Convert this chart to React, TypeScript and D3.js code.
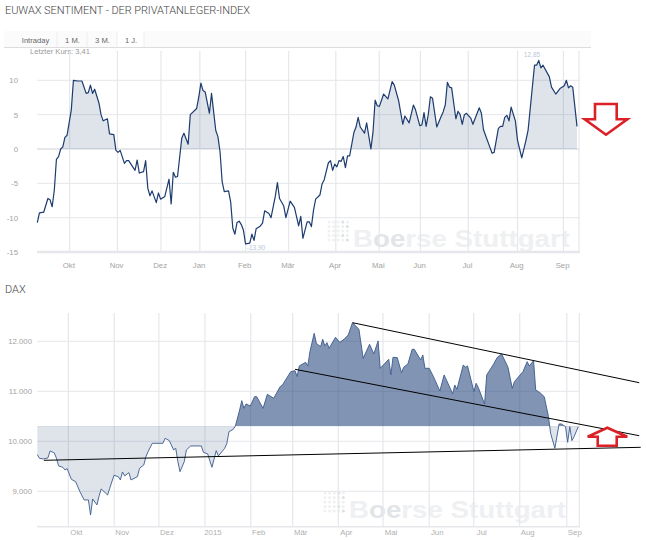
import React from 'react';
import * as d3 from 'd3';

// trading session number (0 = first day shown) and index reading
const sentimentSessions = [
  0, 1, 3, 5, 6, 7, 8, 9, 10, 11, 12, 13, 14, 16, 17, 19, 21, 23, 24, 25, 26, 27, 29, 30, 31, 33, 34, 36, 37, 38, 39,
  41, 42, 43, 46, 47, 48, 50, 51, 52, 53, 54, 56, 57, 58, 60, 62, 63, 64, 65, 66, 68, 69, 71, 72, 75, 76, 77, 78, 79,
  81, 82, 84, 85, 86, 87, 88, 90, 91, 92, 93, 94, 95, 96, 97, 98, 100, 101, 102, 103, 105, 106, 107, 109, 110, 112,
  113, 114, 116, 117, 119, 121, 123, 124, 125, 127, 128, 129, 130, 131, 133, 134, 135, 137, 138, 139, 140, 141, 142,
  143, 144, 145, 146, 147, 149, 150, 151, 152, 154, 155, 157, 158, 159, 160, 161, 163, 165, 167, 168, 170, 172, 173,
  175, 177, 178, 180, 181, 182, 183, 184, 185, 186, 188, 190, 191, 192, 193, 194, 195, 197, 198, 199, 200, 201, 202,
  204, 205, 208, 209, 210, 214, 215, 217, 218, 219, 220, 221, 222, 223, 225, 226, 228, 230, 231, 234, 235, 236, 237,
  238, 241, 242, 244, 246, 248, 249, 250, 251, 252, 254,
];
const sentimentValues = [
  -10.7, -9.3, -9.2, -7.2, -7.4, -8.4, -6.0, -1.5, -1.1, 0, 0.3, 1.7, 2.0, 5.7, 10.0, 9.9, 9.9, 8.1, 8.2, 9.3, 8.1, 8.7,
  6.7, 5.0, 4.1, 4.4, 2.2, 2.1, -0.2, -0.5, -0.2, -2.1, -1.7, -1.7, -3.1, -1.6, -3.5, -3.3, -1.7, -5.7, -6.8, -6.1,
  -7.8, -6.4, -7.3, -6.9, -4.4, -8.0, -3.4, -4.1, -4.0, 1.6, 2.3, 0.7, 5.0, 5.9, 7.6, 9.6, 8.5, 8.3, 5.2, 8.1, 2.7, 1.8,
  -0.4, -4.8, -6.2, -6.1, -7.7, -11.5, -12.4, -10.7, -10.5, -11.0, -11.8, -13.8, -13.7, -12.4, -13.3, -11.6, -11.2,
  -10.8, -9.0, -9.4, -10.0, -6.9, -4.9, -7.2, -8.3, -10.0, -7.6, -8.5, -11.2, -9.8, -13.0, -10.6, -10.6, -11.3, -8.9,
  -7.3, -6.7, -5.1, -4.5, -2.0, -1.7, -3.1, -2.2, -2.6, -1.7, -1.8, -1.1, -2.7, -1.0, -1.0, 2.4, 3.2, 4.6, 3.2, 2.3, 3.8,
  0, 2.5, 7.1, 6.3, 6.2, 8.0, 7.3, 9.8, 9.3, 7.1, 3.6, 4.8, 3.8, 6.4, 5.7, 3.4, 3.5, 5.3, 3.3, 5.0, 7.6, 7.4, 3.2, 4.7,
  5.4, 6.4, 9.7, 9.0, 8.9, 4.4, 5.5, 5.0, 3.6, 5.0, 5.2, 4.5, 3.6, 6.0, 5.2, 2.8, -0.6, -0.5, 3.0, 3.3, 3.3, 4.6, 4.9,
  4.1, 6.1, 4.1, 1.3, -1.3, 1.3, 2.8, 12.2, 12.2, 12.9, 11.8, 12.2, 10.5, 9.0, 8.0, 8.8, 9.2, 10.0, 8.9, 9.2, 9.0, 3.3,
];
const sentimentTicks = [10, 5, 0, -5, -10, -15];
const sentimentMonths = ['Okt', 'Nov', 'Dez', 'Jan', 'Feb', 'Mär', 'Apr', 'Mai', 'Jun', 'Jul', 'Aug', 'Sep'];
const sentimentMonthSessions = [15.2, 37.7, 58.2, 76.5, 98, 118.3, 140.5, 160.9, 180.3, 202.8, 226, 247.6];

const daxSessions = [
  0, 1, 3, 5, 6, 8, 9, 10, 12, 13, 14, 16, 18, 20, 22, 24, 25, 26, 28, 29, 30, 33, 34, 36, 38, 39, 40, 41, 43, 44, 47,
  48, 50, 51, 52, 54, 59, 60, 62, 64, 65, 66, 67, 69, 70, 72, 77, 78, 80, 82, 84, 85, 88, 89, 90, 92, 93, 95, 96, 97,
  98, 100, 102, 103, 106, 108, 111, 114, 115, 119, 121, 122, 123, 126, 127, 128, 130, 131, 133, 134, 135, 136, 137,
  140, 142, 144, 146, 148, 151, 153, 156, 158, 160, 161, 165, 166, 167, 169, 171, 172, 174, 176, 177, 180, 181, 182,
  184, 186, 189, 191, 194, 195, 196, 197, 200, 201, 202, 205, 206, 207, 210, 211, 214, 216, 218, 221, 223, 224, 228,
  230, 231, 233, 234, 236, 238, 240, 241, 243, 245, 246, 248, 249, 250, 251, 252, 254,
];
const daxValues = [
  9733, 9660, 9647, 9667, 9807, 9767, 9660, 9507, 9480, 9427, 9453, 9240, 9193, 8993, 8827, 8827, 8527, 8847, 8727,
  8907, 9047, 8927, 9060, 9320, 9293, 9227, 9387, 9307, 9373, 9227, 9293, 9460, 9527, 9693, 9793, 9960, 9960, 10060,
  10013, 9827, 9860, 9593, 9393, 9593, 9827, 9907, 9907, 9780, 9747, 9480, 9813, 9707, 9860, 9960, 10193, 10240, 10307,
  10627, 10813, 10660, 10747, 10707, 10893, 10893, 10660, 10940, 10860, 11093, 11120, 11393, 11413, 11293, 11507, 11580,
  11507, 11793, 12160, 11960, 11893, 12040, 11907, 11973, 11860, 12080, 11980, 12040, 12127, 12373, 12240, 11660, 11940,
  11747, 12007, 11460, 11640, 11333, 11680, 11673, 11373, 11480, 11547, 11840, 11840, 11627, 11727, 11460, 11460, 11293,
  11007, 11327, 11047, 10947, 11127, 11040, 11527, 11480, 11507, 10993, 11160, 11080, 10747, 11327, 11527, 11680, 11747,
  11480, 11060, 11193, 11393, 11593, 11507, 11613, 11027, 10973, 10893, 10493, 10160, 9860, 10347, 10347, 10293, 9980,
  10293, 10013, 10093, 10293,
];
const daxBase = 10300;
const daxTicks = [12000, 11000, 10000, 9000];
const daxMonths = ['Okt', 'Nov', 'Dez', '2015', 'Feb', 'Mär', 'Apr', 'Mai', 'Jun', 'Jul', 'Aug', 'Sep'];
const daxMonthSessions = [14.6, 36.1, 57.1, 78.7, 100.2, 119.9, 141.3, 162.3, 184, 204.9, 226.5, 248.6];

// hand drawn trend lines on the DAX panel, [session, index level]
const trendLines = [
  [[148, 12372], [282.6, 11172]],
  [[121, 11440], [282.6, 10112]],
  [[3.1, 9620], [283.3, 9880]],
];

const tabs = ['Intraday', '1 M.', '3 M.', '1 J.'];

const FONT = 'Arial, "Liberation Sans", sans-serif';
const GRID = '#e6e7eb';
const TICK = '#a3a3a3';

const fmtDax = (v: number) => d3.format(',')(v).replace(',', '.');

const Watermark = ({ x, y }: { x: number; y: number }) => (
  <g>
    {d3.range(25).map(i => (
      <circle
        key={i}
        cx={x - 24 + (i % 5) * 4.6}
        cy={y - 25 + Math.floor(i / 5) * 4.5}
        r={1.5}
        fill={i % 5 > 2 && i % 3 == 0 ? '#dcdfe3' : '#eef0f2'}
      />
    ))}
    <text
      x={x}
      y={y}
      fontFamily={FONT}
      fontSize={24}
      fontWeight="bold"
      fill="#eef0f2"
      textLength={217}
      lengthAdjust="spacingAndGlyphs">
      B<tspan fill="#e2e5e8">oe</tspan>rse Stuttgart
    </text>
  </g>
);

const App = () => {
  // upper panel
  const x1 = d3.scaleLinear().domain([0, 254]).range([37.3, 577]);
  const y1 = d3.scaleLinear().domain([0, 10]).range([149, 80.3]);
  const pts1 = sentimentSessions.map((s, i) => [s, sentimentValues[i]]);
  const line1 = d3.line<number[]>().x(d => x1(d[0])).y(d => y1(d[1]));
  const area1 = d3.area<number[]>().x(d => x1(d[0])).y0(y1(0)).y1(d => y1(d[1]));

  // lower panel
  const x2 = d3.scaleLinear().domain([0, 254]).range([37.3, 578.3]);
  const y2 = d3.scaleLinear().domain([10000, 12000]).range([441.3, 341.3]);
  const pts2 = daxSessions.map((s, i) => [s, daxValues[i]]);
  const line2 = d3.line<number[]>().x(d => x2(d[0])).y(d => y2(d[1]));
  const area2 = d3.area<number[]>().x(d => x2(d[0])).y0(y2(daxBase)).y1(d => y2(d[1]));
  const trend = d3.line<number[]>().x(d => x2(d[0])).y(d => y2(d[1]));

  return (
    <svg
      width={646}
      height={540}
      style={{ position: 'absolute', left: 0, top: 0, background: '#fff' }}
      fontFamily={FONT}>
      <defs>
        <clipPath id="above0">
          <rect x={37} y={40} width={545} height={y1(0) - 40} />
        </clipPath>
        <clipPath id="aboveBase">
          <rect x={37} y={300} width={545} height={y2(daxBase) - 300} />
        </clipPath>
        <clipPath id="belowBase">
          <rect x={37} y={y2(daxBase)} width={545} height={530 - y2(daxBase)} />
        </clipPath>
      </defs>

      <text x={5} y={14} fontSize={11} fill="#444" textLength={245} fontFamily="Roboto, sans-serif" fontWeight={300}>
        EUWAX SENTIMENT - DER PRIVATANLEGER-INDEX
      </text>

      {/* tab bar */}
      <rect x={4} y={31} width={587} height={16} fill="#fbfbfb" />
      <rect x={117} y={31} width={27} height={16} fill="#fff" />
      {[57, 87, 117, 144].map(v => (
        <line key={v} x1={v} x2={v} y1={32} y2={47} stroke="#eeeeee" />
      ))}
      <line x1={4} x2={591} y1={47.5} y2={47.5} stroke="#dddddd" />
      {tabs.map((t, i) => (
        <text key={t} x={[35.5, 72.5, 102.5, 131][i]} y={43} fontSize={7.6} fill="#666" textAnchor="middle">
          {t}
        </text>
      ))}
      <text x={30} y={53.5} fontSize={7.6} fill="#999">
        Letzter Kurs: 3,41
      </text>

      {/* upper panel grid */}
      <Watermark x={353} y={247} />
      {sentimentMonthSessions.map(s => (
        <line key={s} x1={x1(s)} x2={x1(s)} y1={51} y2={253} stroke={GRID} strokeWidth={1.2} />
      ))}
      <line x1={579} x2={579} y1={51} y2={253} stroke={GRID} strokeWidth={1.2} />
      {sentimentTicks.map(t => (
        <g key={t}>
          <line
            x1={37}
            x2={580}
            y1={y1(t)}
            y2={y1(t)}
            stroke={GRID}
            strokeWidth={t == 0 ? 2 : t == -15 ? 2.5 : 1}
          />
          <text x={18} y={y1(t) + 3} fontSize={7.8} fill={TICK} textAnchor="end">
            {t}
          </text>
        </g>
      ))}
      {sentimentMonths.map((m, i) => (
        <text key={m} x={x1(sentimentMonthSessions[i]) - 0.8} y={268} fontSize={7.8} fill={TICK} textAnchor="middle">
          {m}
        </text>
      ))}

      <path d={area1(pts1) || ''} fill="#1f3f74" fillOpacity={0.14} clipPath="url(#above0)" />
      <path d={line1(pts1) || ''} fill="none" stroke="#1c3b6e" strokeWidth={1.2} strokeLinejoin="round" />
      <text x={532} y={57} fontSize={6.5} fill="#b9c6da" textAnchor="middle">
        12,85
      </text>
      <text x={256} y={250} fontSize={6.5} fill="#b9c6da" textAnchor="middle">
        -13,90
      </text>
      <path
        d={d3.line()([[595, 104], [616.7, 104], [616.7, 119.3], [627.3, 119.3], [606, 134.7], [584.7, 119.3], [595, 119.3]]) + 'Z'}
        fill="#fff"
        stroke="#dc2027"
        strokeWidth={2.6}
      />

      <text x={5} y={293} fontSize={11} fill="#444" fontFamily="Roboto, sans-serif" fontWeight={300}>
        DAX
      </text>

      {/* lower panel grid */}
      <Watermark x={349} y={518} />
      {daxMonthSessions.map(s => (
        <line key={s} x1={x2(s)} x2={x2(s)} y1={313} y2={527} stroke={GRID} strokeWidth={1.2} />
      ))}
      <line x1={579.3} x2={579.3} y1={313} y2={527} stroke={GRID} strokeWidth={1.2} />
      {daxTicks.map(t => (
        <g key={t}>
          <line x1={37} x2={580} y1={y2(t)} y2={y2(t)} stroke={GRID} />
          <text x={32} y={y2(t) + 3} fontSize={7.8} fill={TICK} textAnchor="end">
            {fmtDax(t)}
          </text>
        </g>
      ))}
      <line x1={37} x2={580} y1={526.7} y2={526.7} stroke={GRID} strokeWidth={1.5} />
      {daxMonths.map((m, i) => (
        <text key={m} x={x2(daxMonthSessions[i]) + 8} y={534.5} fontSize={7.8} fill="#b0b0b0" textAnchor="middle">
          {m}
        </text>
      ))}

      <path d={area2(pts2) || ''} fill="#1f3f74" fillOpacity={0.14} clipPath="url(#belowBase)" />
      <path d={area2(pts2) || ''} fill="#1f4178" fillOpacity={0.56} clipPath="url(#aboveBase)" />
      <path d={line2(pts2) || ''} fill="none" stroke="#3a5a8c" strokeWidth={0.9} strokeLinejoin="round" />

      {trendLines.map((l, i) => (
        <path key={i} d={trend(l) || ''} fill="none" stroke="#000" strokeWidth={1} />
      ))}
      <path
        d={d3.line()([[607.3, 427.7], [627.3, 436.7], [616.7, 436.7], [616.7, 445.7], [597.7, 445.7], [597.7, 436.7], [587.7, 436.7]]) + 'Z'}
        fill="#fff"
        stroke="#dc2027"
        strokeWidth={2.6}
      />
    </svg>
  );
};

export default App;
